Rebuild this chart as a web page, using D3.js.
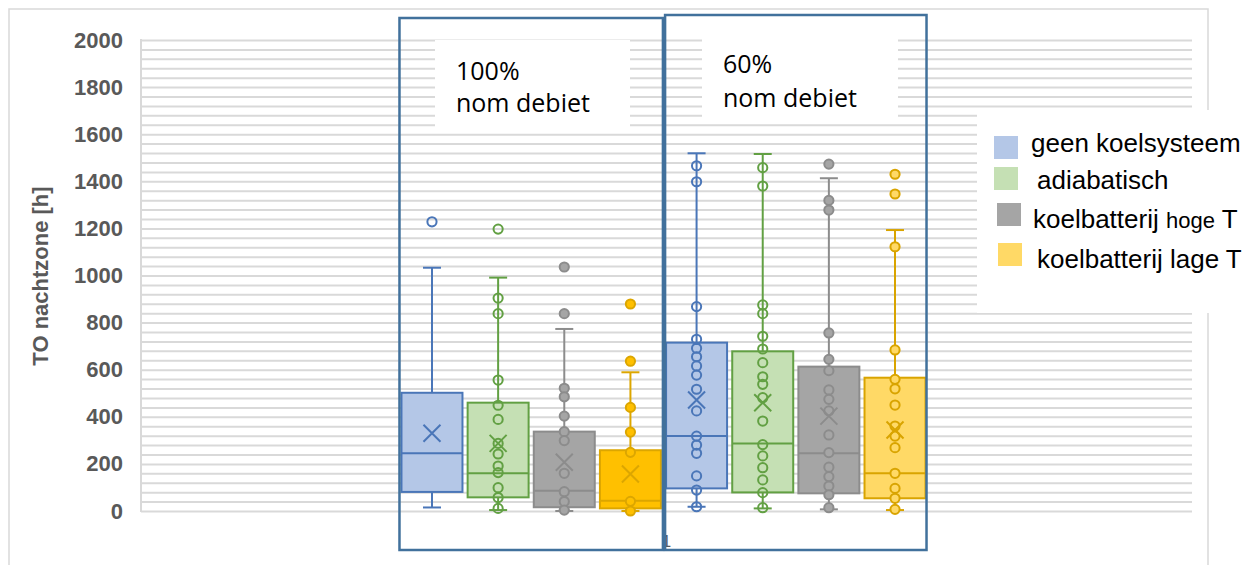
<!DOCTYPE html>
<html>
<head>
<meta charset="utf-8">
<script src="https://cdn.jsdelivr.net/npm/d3@7"></script>
<style>
  body { margin: 0; background: #fff; }
  text { font-family: "Liberation Sans", Arial, sans-serif; }
</style>
</head>
<body>
<div id="chart"></div>
<script>
// Boxes in order: the 4 cooling systems at 100% flow, then the same 4 at 60% flow
const flowGroups = ["100%", "60%"];
const systems = ["geen koelsysteem", "adiabatisch", "koelbatterij hoge T", "koelbatterij lage T"];
const categories = ["1"];
const yTicks = d3.range(0, 2001, 200);

const whiskerLow  = [15, 4, 0, 0, 18, 11, 7, 4];
const q1          = [81, 58, 16, 11, 96, 79, 75, 54];
const medians     = [245, 160, 86, 44, 318, 287, 245, 160];
const q3          = [502, 460, 337, 258, 715, 678, 613, 566];
const whiskerHigh = [1033, 991, 773, 589, 1519, 1516, 1413, 1193];
const means       = [330, 287, 207, 157, 471, 460, 403, 344];

const innerPoints = [
  [],
  [904, 838, 556, 449, 389, 287, 242, 191, 163, 99, 57, 11],
  [521, 485, 403, 337, 299, 160, 82, 40, 4],
  [440, 335, 249, 41, 0],
  [1466, 1398, 868, 729, 691, 655, 616, 577, 517, 425, 318, 280, 245, 149, 89, 18],
  [1458, 1380, 875, 838, 742, 688, 630, 570, 538, 481, 382, 282, 234, 184, 132, 78, 14],
  [1319, 1278, 756, 644, 596, 514, 474, 425, 323, 248, 186, 146, 106, 69, 14],
  [1122, 684, 559, 519, 450, 361, 318, 269, 160, 96, 54, 7]
];
const outliers = [[1228], [1197], [1036, 838], [879, 636], [], [], [1473], [1430, 1346]];

// colours per box
const boxFill    = ["#b4c7e7", "#c5e0b4", "#a5a5a5", "#ffc000", "#b4c7e7", "#c5e0b4", "#a5a5a5", "#ffd966"];
const boxStroke  = ["#4a76b8", "#62a043", "#8c8c8c", "#dca600", "#4a76b8", "#62a043", "#8c8c8c", "#d9a400"];
const markerFill = ["none", "none", "#a5a5a5", "#ffc000", "none", "none", "#a5a5a5", "#ffd966"];
const legendFill = ["#b4c7e7", "#c5e0b4", "#a5a5a5", "#ffd966"];

const width = 1258, height = 565;
const plot = { left: 141, right: 1192, top: 40, bottom: 511 };
const frameColor = "#41719c";

const svg = d3.select("#chart").append("svg")
  .attr("width", width)
  .attr("height", height);

// outer chart border
svg.append("rect")
  .attr("x", 9).attr("y", 9)
  .attr("width", 1199).attr("height", 580)
  .attr("fill", "none")
  .attr("stroke", "#d9d9d9")
  .attr("stroke-width", 1.5);

// scales
const y = d3.scaleLinear().domain([0, 2000]).range([plot.bottom, plot.top]);
const xCat = d3.scaleBand().domain(categories).range([plot.left, plot.right]);
const mid = xCat("1") + xCat.bandwidth() / 2 - 3;
const x = d3.scaleBand()
  .domain(d3.range(8))
  .range([mid - 264.6, mid + 264.6])
  .paddingInner(0.078)
  .paddingOuter(0.039);
const bw = x.bandwidth();

// gridlines every 40 h
const grid = svg.append("g")
  .attr("transform", "translate(" + plot.left + ",0)")
  .call(d3.axisLeft(y).tickValues(d3.range(0, 2001, 40)).tickSize(-(plot.right - plot.left)).tickFormat(""));
grid.select(".domain").remove();
grid.selectAll("line").attr("stroke", "#d9d9d9").attr("stroke-width", 2);

svg.append("line")
  .attr("x1", plot.left).attr("x2", plot.left)
  .attr("y1", y(2000) - 1).attr("y2", y(0) + 1)
  .attr("stroke", "#d9d9d9").attr("stroke-width", 2);

// Y axis labels and title
const yAxis = svg.append("g")
  .attr("transform", "translate(" + plot.left + ",0)")
  .call(d3.axisLeft(y).tickValues(yTicks).tickFormat(d3.format("d")).tickSize(0).tickPadding(18));
yAxis.select(".domain").remove();
yAxis.selectAll("text")
  .attr("fill", "#595959")
  .style("font-size", "22px")
  .style("font-weight", "bold");

svg.append("text")
  .attr("transform", "translate(48,276) rotate(-90)")
  .attr("text-anchor", "middle")
  .attr("fill", "#595959")
  .style("font-size", "22px")
  .style("font-weight", "bold")
  .text("TO nachtzone [h]");

// category axis (label sits behind the frames)
const xAxis = svg.append("g")
  .attr("transform", "translate(0," + plot.bottom + ")")
  .call(d3.axisBottom(xCat).tickSize(0).tickPadding(24));
xAxis.select(".domain").remove();
xAxis.selectAll("text").attr("fill", "#595959").style("font-size", "17px");

// box plots
const boxes = svg.selectAll(".box")
  .data(d3.range(8))
  .join("g")
  .attr("class", "box");

boxes.each(function (i) {
  const g = d3.select(this);
  const cx = x(i) + bw / 2;
  const stroke = boxStroke[i];

  // whiskers + caps
  [[q3[i], whiskerHigh[i]], [q1[i], whiskerLow[i]]].forEach(([from, to]) => {
    g.append("line")
      .attr("x1", cx).attr("x2", cx)
      .attr("y1", y(from)).attr("y2", y(to))
      .attr("stroke", stroke).attr("stroke-width", 2);
    g.append("line")
      .attr("x1", cx - 9).attr("x2", cx + 9)
      .attr("y1", y(to)).attr("y2", y(to))
      .attr("stroke", stroke).attr("stroke-width", 2);
  });

  g.append("rect")
    .attr("x", x(i))
    .attr("y", y(q3[i]))
    .attr("width", bw)
    .attr("height", y(q1[i]) - y(q3[i]))
    .attr("fill", boxFill[i])
    .attr("stroke", stroke)
    .attr("stroke-width", 2);

  g.append("line")
    .attr("x1", x(i)).attr("x2", x(i) + bw)
    .attr("y1", y(medians[i])).attr("y2", y(medians[i]))
    .attr("stroke", stroke).attr("stroke-width", 2);

  g.selectAll(".pt")
    .data(innerPoints[i].concat(outliers[i]))
    .join("circle")
    .attr("class", "pt")
    .attr("cx", cx)
    .attr("cy", (d) => y(d))
    .attr("r", 4.6)
    .attr("fill", markerFill[i])
    .attr("stroke", stroke)
    .attr("stroke-width", 2);

  const my = y(means[i]), s = 8.5;
  g.append("path")
    .attr("d", `M${cx - s},${my - s}L${cx + s},${my + s}M${cx + s},${my - s}L${cx - s},${my + s}`)
    .attr("stroke", stroke)
    .attr("stroke-width", 2)
    .attr("fill", "none");
});

// flow group labels on white boxes
const labelBoxes = [
  { x: 435, y: 40, w: 195, h: 87, tx: 456, b1: 80, b2: 112 },
  { x: 702, y: 37, w: 196, h: 87, tx: 723, b1: 73, b2: 107 }
];
labelBoxes.forEach((lb, k) => {
  svg.append("rect")
    .attr("x", lb.x).attr("y", lb.y)
    .attr("width", lb.w).attr("height", lb.h)
    .attr("fill", "#fff");
  const t = svg.append("text")
    .attr("fill", "#000")
    .style("font-family", "'Open Sans', sans-serif")
    .style("font-size", "25px");
  t.append("tspan").attr("x", lb.tx).attr("y", lb.b1).text(flowGroups[k]);
  t.append("tspan").attr("x", lb.tx).attr("y", lb.b2).text("nom debiet");
});

// frames around the two flow groups
[[0, 3, 18], [4, 7, 15]].forEach(([a, b, top]) => {
  const left = x(a) - (a === 0 ? 2 : 1);
  const right = x(b) + bw + (a === 0 ? 2 : 1);
  svg.append("rect")
    .attr("x", left).attr("y", top)
    .attr("width", right - left)
    .attr("height", 550 - top)
    .attr("fill", "none")
    .attr("stroke", frameColor)
    .attr("stroke-width", 2.5);
});

// legend
svg.append("rect")
  .attr("x", 977).attr("y", 110)
  .attr("width", 281).attr("height", 203)
  .attr("fill", "#fff");

const legendRows = [
  { sx: 994, sy: 136, tx: 1031, ty: 152 },
  { sx: 994, sy: 167, tx: 1037, ty: 189 },
  { sx: 997, sy: 203, tx: 1033, ty: 228 },
  { sx: 998, sy: 243, tx: 1037, ty: 268 }
];
legendRows.forEach((r, k) => {
  svg.append("rect")
    .attr("x", r.sx).attr("y", r.sy)
    .attr("width", 24).attr("height", 23)
    .attr("fill", legendFill[k]);
  const t = svg.append("text")
    .attr("x", r.tx).attr("y", r.ty)
    .attr("fill", "#000")
    .style("font-size", "26px");
  if (k === 2) {
    t.append("tspan").text("koelbatterij ");
    t.append("tspan").style("font-size", "22px").text("hoge");
    t.append("tspan").text(" T");
  } else {
    t.text(systems[k]);
  }
});
</script>
</body>
</html>
